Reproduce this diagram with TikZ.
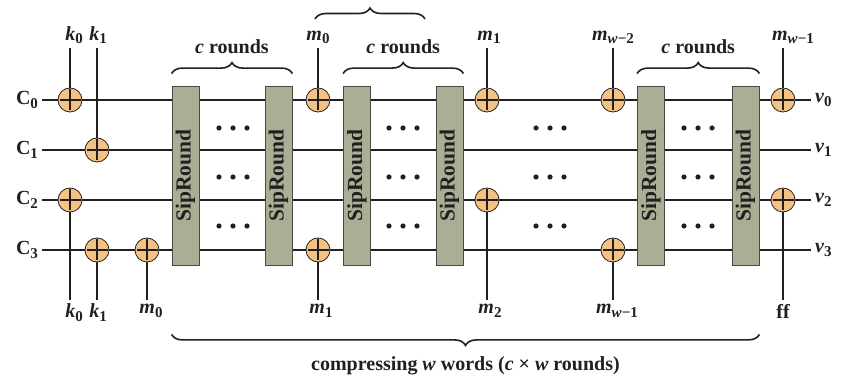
\documentclass[tikz,border=0pt]{standalone}
\usepackage{fontspec}
\setmainfont{Liberation Serif}
\usetikzlibrary{backgrounds,decorations.pathreplacing}
\definecolor{sipInk}{HTML}{231F20}
\definecolor{sipBox}{HTML}{A8AF94}
\definecolor{sipEdge}{HTML}{4A4A44}
\definecolor{sipXor}{HTML}{F4C283}
\newcommand{\wsub}[2]{#1\raisebox{-0.4ex}{\fontsize{15}{15}\selectfont #2}}
\tikzset{
  sip diagram/.style={font=\fontsize{20}{23}\selectfont\bfseries, text=sipInk},
  sip wire/.style={draw=sipInk, line width=1.9pt},
  sip box/.style={draw=sipEdge, fill=sipBox, line width=0.8pt, minimum width=27pt,
    minimum height=179pt, inner sep=0pt, font=\fontsize{21.5}{21.5}\selectfont\bfseries},
  sip xor/.style={circle, draw=sipInk, fill=sipXor, line width=0.8pt,
    minimum size=24pt, inner sep=0pt,
    path picture={\draw[sipInk, line width=2.2pt]
      ([yshift=-1.5pt]path picture bounding box.north) -- ([yshift=1.5pt]path picture bounding box.south)
      ([xshift=1.5pt]path picture bounding box.west) -- ([xshift=-1.5pt]path picture bounding box.east);}},
  sip label/.style={inner sep=0pt, outer sep=4pt},
  sip note/.style={inner sep=0pt, outer sep=0pt},
  sip brace/.style={draw=sipInk, line width=1.6pt, decorate,
    decoration={brace, amplitude=11pt}},
  sip dot/.style={fill=sipInk}
}

\begin{document}
\begin{tikzpicture}[sip diagram, x=1pt, y=-1pt]
\useasboundingbox (0,0) rectangle (844,379);
% state words in and out
\foreach \i/\y in {0/100,1/150,2/200,3/250}{
  \node[sip label, anchor=east] (c\i) at (42,\y) {\wsub{C}{\i}};
  \node[sip label, anchor=west] (v\i) at (811,\y) {\wsub{\textit{v}}{\i}};
}
% SipRound boxes
\foreach \n/\x in {1/185.5,2/278.5,3/357,4/449.5,5/651,6/745.5}{
  \node[sip box] (r\n) at (\x,175.5) {\rotatebox{90}{SipRound}};
}
% xor gates
\node[sip xor] (xk0t) at (70,100) {};
\node[sip xor] (xk1t) at (97,150) {};
\node[sip xor] (xk0b) at (70,200) {};
\node[sip xor] (xk1b) at (97,250) {};
\node[sip xor] (xm0b) at (147,250) {};
\node[sip xor] (xm0t) at (318,100) {};
\node[sip xor] (xm1b) at (318,250) {};
\node[sip xor] (xm1t) at (487,100) {};
\node[sip xor] (xm2b) at (487,200) {};
\node[sip xor] (xmw2t) at (613,100) {};
\node[sip xor] (xmw1b) at (613,250) {};
\node[sip xor] (xmw1t) at (783,100) {};
\node[sip xor] (xff) at (783,200) {};
% key and message words
\node[sip label, anchor=south] (k0t) at (74,48) {\wsub{\textit{k}}{0}};
\node[sip label, anchor=south] (k1t) at (98,48) {\wsub{\textit{k}}{1}};
\node[sip label, anchor=south] (m0t) at (318,48) {\wsub{\textit{m}}{0}};
\node[sip label, anchor=south] (m1t) at (489,48) {\wsub{\textit{m}}{1}};
\node[sip label, anchor=south] (mw2t) at (613,48) {\wsub{\textit{m}}{\textit{w}−2}};
\node[sip label, anchor=south] (mw1t) at (793,48) {\wsub{\textit{m}}{\textit{w}−1}};
\node[sip label, anchor=north] (k0b) at (74,300) {\wsub{\textit{k}}{0}};
\node[sip label, anchor=north] (k1b) at (98,300) {\wsub{\textit{k}}{1}};
\node[sip label, anchor=north] (m0b) at (151,300) {\wsub{\textit{m}}{0}};
\node[sip label, anchor=north] (m1b) at (321,300) {\wsub{\textit{m}}{1}};
\node[sip label, anchor=north] (m2b) at (490,300) {\wsub{\textit{m}}{2}};
\node[sip label, anchor=north] (mw1b) at (617,300) {\wsub{\textit{m}}{\textit{w}−1}};
\node[sip label, anchor=north] (ffb) at (783,300) {ff};
% braces
\draw[sip brace] ([yshift=12pt]r1.north west) -- ([yshift=12pt]r2.north east)
  node[sip note, midway, above=20pt] (cr1) {\textit{c} rounds};
\draw[sip brace] ([yshift=12pt]r3.north west) -- ([yshift=12pt]r4.north east)
  node[sip note, midway, above=20pt] (cr2) {\textit{c} rounds};
\draw[sip brace] ([yshift=12pt]r5.north west) -- ([yshift=12pt]r6.north east)
  node[sip note, midway, above=20pt] (cr3) {\textit{c} rounds};
\draw[sip brace] (315,19) -- (425,19);
\draw[sip brace] ([yshift=-69pt]r6.south east) -- ([yshift=-69pt]r1.south west)
  node[sip note, midway, below=22pt] (cw) {compressing \textit{w} words (\textit{c} × \textit{w} rounds)};
% dots between rounds
\foreach \x in {233,403,550,698}{
  \foreach \y in {128,177,226}{
    \foreach \d in {-14,0,14}{
      \fill[sip dot] (\x+\d,\y) circle (2.6pt);
    }
  }
}
\begin{scope}[on background layer]
\foreach \i in {0,...,3}{
  \draw[sip wire] (c\i.east) -- (v\i.west);
}
\foreach \g/\l in {xk0t/k0t,xk1t/k1t,xm0t/m0t,xm1t/m1t,xmw2t/mw2t,xmw1t/mw1t}{
  \draw[sip wire] (\l.south -| \g) -- (\g);
}
\foreach \g/\l in {xk0b/k0b,xk1b/k1b,xm0b/m0b,xm1b/m1b,xm2b/m2b,xmw1b/mw1b,xff/ffb}{
  \draw[sip wire] (\g) -- (\l.north -| \g);
}
\end{scope}
\end{tikzpicture}
\end{document}
